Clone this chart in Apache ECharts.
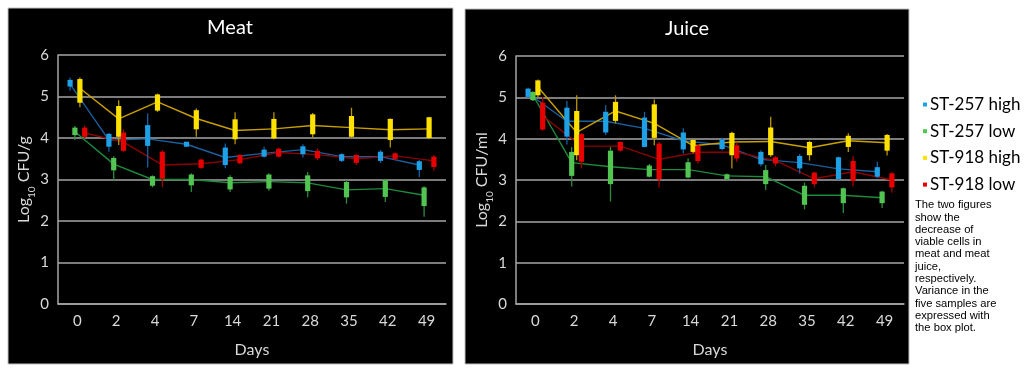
<!DOCTYPE html>
<html><head><meta charset="utf-8">
<script src="https://cdn.jsdelivr.net/npm/echarts@6/dist/echarts.min.js"></script>
<style>html,body{margin:0;padding:0;background:#fff}#c{width:1029px;height:370px}</style>
</head><body><div id="c"></div>
<script>
// Categories (days)
const days = ['0','2','4','7','14','21','28','35','42','49'];
const yTicks = [0, 6, 1]; // min, max, interval
const seriesNames = ['ST-257 high','ST-257 low','ST-918 high','ST-918 low'];

// Box values per day: [min, Q1, median, Q3, max] (log10 CFU)
const meatBlue = [[5.14,5.24,5.3,5.40,5.46],[3.67,3.79,3.95,4.10,4.12],[3.29,3.81,3.98,4.31,4.59],[3.79,3.79,3.85,3.91,3.91],[3.27,3.35,3.53,3.77,3.87],[3.53,3.55,3.63,3.72,3.79],[3.53,3.61,3.72,3.80,3.85],[3.42,3.45,3.55,3.61,3.63],[3.40,3.45,3.55,3.67,3.71],[3.06,3.23,3.35,3.44,3.47]];
const meatGreen = [[3.95,4.07,4.15,4.25,4.29],[2.98,3.22,3.37,3.52,3.56],[2.81,2.85,3.0,3.08,3.10],[2.70,2.86,3.0,3.12,3.15],[2.70,2.76,2.92,3.06,3.10],[2.73,2.78,2.95,3.12,3.15],[2.57,2.72,2.92,3.10,3.18],[2.42,2.57,2.75,2.94,2.98],[2.46,2.58,2.78,2.98,3.02],[2.10,2.36,2.62,2.81,2.84]];
const meatYellow = [[4.74,4.85,5.2,5.42,5.46],[3.83,4.03,4.46,4.77,4.91],[4.63,4.66,4.87,5.05,5.07],[4.03,4.21,4.47,4.67,4.71],[3.85,3.97,4.18,4.45,4.62],[3.97,3.99,4.22,4.46,4.62],[4.01,4.09,4.3,4.57,4.60],[4.0,4.03,4.25,4.53,4.73],[3.77,3.95,4.2,4.46,4.47],[3.97,4.0,4.22,4.50,4.51]];
const meatRed = [[3.99,4.03,4.12,4.25,4.30],[3.67,3.69,3.9,4.13,4.21],[2.82,3.02,3.35,3.67,3.71],[3.26,3.28,3.38,3.48,3.50],[3.37,3.39,3.48,3.59,3.61],[3.53,3.55,3.65,3.74,3.77],[3.47,3.51,3.6,3.69,3.75],[3.35,3.40,3.5,3.59,3.61],[3.47,3.49,3.57,3.63,3.65],[3.21,3.30,3.45,3.55,3.59]];

const juiceBlue = [[4.99,5.01,5.1,5.21,5.23],[3.86,4.05,4.42,4.75,4.91],[4.09,4.15,4.42,4.65,4.81],[3.79,3.80,4.25,4.51,4.65],[3.64,3.74,3.95,4.15,4.25],[3.72,3.75,3.85,3.98,4.02],[3.33,3.38,3.5,3.68,3.72],[3.16,3.28,3.42,3.58,3.63],[3.0,3.02,3.27,3.55,3.57],[3.04,3.08,3.2,3.31,3.44]];
const juiceGreen = [[4.91,4.93,5.05,5.13,5.15],[2.84,3.10,3.42,3.68,3.80],[2.48,2.90,3.32,3.71,3.80],[3.06,3.08,3.25,3.35,3.39],[3.04,3.06,3.25,3.43,3.52],[3.0,3.02,3.1,3.14,3.16],[2.76,2.90,3.08,3.24,3.36],[2.29,2.40,2.63,2.86,2.94],[2.20,2.44,2.63,2.80,2.82],[2.32,2.44,2.57,2.72,2.74]];
const juiceYellow = [[5.01,5.05,5.25,5.41,5.43],[3.48,3.60,4.15,4.67,5.05],[4.37,4.43,4.67,4.89,5.05],[3.84,4.02,4.37,4.83,4.95],[3.64,3.68,3.83,3.97,3.97],[3.28,3.60,3.92,4.14,4.17],[3.56,3.60,3.93,4.27,4.53],[3.47,3.60,3.78,3.92,3.95],[3.68,3.80,3.95,4.07,4.13],[3.59,3.71,3.9,4.09,4.11]];
const juiceRed = [[4.19,4.22,4.55,4.87,5.01],[3.28,3.44,3.82,4.11,4.14],[3.69,3.71,3.82,3.92,3.94],[2.82,3.02,3.5,3.88,3.92],[3.40,3.46,3.67,3.83,3.87],[3.44,3.52,3.67,3.84,3.91],[3.33,3.40,3.47,3.55,3.58],[2.82,2.90,3.03,3.18,3.20],[2.84,2.98,3.2,3.46,3.58],[2.69,2.82,3.0,3.16,3.20]];

const description = 'The two figures\nshow the\ndecrease of\nviable cells in\nmeat and meat\njuice,\nrespectively.\nVariance in the\nfive samples are\nexpressed with\nthe box plot.';

// Styles
const boxColors = ['#1ea0e6','#52c452','#ffe100','#e60000'];
const whiskerColors = ['#1560a8','#2e8b3e','#b89400','#a00000'];
const lineColors = ['#1a5f9e','#1e8a3c','#c9a000','#8c0000'];
const offsets = [-7.3, -2.5, 2.5, 7.3];
const FONT = 'Lato';
const LBL = '#d9d9d9';

function toRows(arr){ return arr.map((v,i)=>[i].concat(v)); }

function boxSeries(name, arr, k, gi){
  return {
    type:'custom', name, xAxisIndex:gi, yAxisIndex:gi, z:4,
    itemStyle:{color:boxColors[k]},
    encode:{x:0, y:[1,2,3,4,5]},
    data: toRows(arr),
    renderItem(params, api){
      const i = api.value(0);
      const xc = api.coord([i, 0])[0] + offsets[k];
      const y = v => api.coord([i, v])[1];
      const mn=api.value(1), q1=api.value(2), q3=api.value(4), mx=api.value(5);
      return {type:'group', children:[
        {type:'line', shape:{x1:xc,y1:y(mx),x2:xc,y2:y(mn)}, style:{stroke:whiskerColors[k], lineWidth:1.3}},
        {type:'rect', shape:{x:xc-2.6, y:y(q3), width:5.2, height:Math.max(2.5, y(q1)-y(q3))}, style:{fill:boxColors[k]}}
      ]};
    }
  };
}
function lineSeries(name, arr, k, gi){
  return {
    type:'custom', name, xAxisIndex:gi, yAxisIndex:gi, z:3,
    itemStyle:{color:lineColors[k]},
    encode:{x:0, y:1},
    data: arr.map((v,i)=>[i, v[2]]),
    renderItem(params, api){
      const i = api.value(0);
      if (i === 0) return null;
      const p0 = api.coord([i-1, arr[i-1][2]]); p0[0] += offsets[k];
      const p1 = api.coord([i, api.value(1)]); p1[0] += offsets[k];
      return {type:'line', shape:{x1:p0[0],y1:p0[1],x2:p1[0],y2:p1[1]}, style:{stroke:lineColors[k], lineWidth:1.4}};
    }
  };
}

const panels = [
  [meatBlue, meatGreen, meatYellow, meatRed],
  [juiceBlue, juiceGreen, juiceYellow, juiceRed]
];
const series = [];
panels.forEach((p, gi) => p.forEach((arr,k) => series.push(lineSeries(seriesNames[k], arr, k, gi))));
panels.forEach((p, gi) => p.forEach((arr,k) => series.push(boxSeries(seriesNames[k], arr, k, gi))));

function xAxis(gi){
  return {type:'category', gridIndex:gi, data:days, boundaryGap:true,
    axisLine:{show:true, lineStyle:{color:'#a6a6a6', width:1.5}}, axisTick:{show:false},
    axisLabel:{color:LBL, fontFamily:FONT, fontSize:15, margin:10},
    name:'Days', nameLocation:'middle', nameGap:38,
    nameTextStyle:{color:LBL, fontFamily:FONT, fontSize:16}};
}
function yAxis(gi, unit){
  return {type:'value', gridIndex:gi, min:yTicks[0], max:yTicks[1], interval:yTicks[2],
    axisLine:{show:true, lineStyle:{color:'#a6a6a6', width:1.5}}, axisTick:{show:false},
    splitLine:{lineStyle:{color:'#a6a6a6', width:1.5}},
    axisLabel:{color:LBL, fontFamily:FONT, fontSize:15, margin:9},
    name:'{a|Log}{s|10}{a| CFU/' + unit + '}', nameLocation:'middle', nameGap:23, nameRotate:90,
    nameTextStyle:{color:LBL, fontFamily:FONT, rich:{
      a:{fontSize:16, color:LBL, fontFamily:FONT, lineHeight:20},
      s:{fontSize:10, color:LBL, fontFamily:FONT, lineHeight:20, verticalAlign:'bottom', padding:[0,0,-3,0]}
    }}};
}

const option = {
  backgroundColor:'#ffffff',
  animation:false,
  grid:[
    {left:58, right:583, top:55, bottom:66},
    {left:516, right:125, top:56, bottom:66}
  ],
  xAxis:[xAxis(0), xAxis(1)],
  yAxis:[yAxis(0,'g'), yAxis(1,'ml')],
  legend:{
    orient:'vertical', left:918, top:90, itemWidth:4, itemHeight:4, itemGap:7.7, icon:'rect',
    textStyle:{color:'#000', fontFamily:FONT, fontSize:17, lineHeight:19, padding:[0,0,0,-2]},
    data: seriesNames.map((n,k)=>({name:n, itemStyle:{color:boxColors[k]}})),
    selectedMode:false
  },
  graphic:[
    {type:'rect', z:-100, silent:true, shape:{x:8, y:8, width:445, height:356}, style:{fill:'#000', stroke:'#c0c0c0', lineWidth:1}},
    {type:'rect', z:-100, silent:true, shape:{x:465, y:9, width:444, height:355}, style:{fill:'#000', stroke:'#c0c0c0', lineWidth:1}},
    {type:'text', x:230, y:28, style:{text:'Meat', fill:'#fff', font:'20px Lato', textAlign:'center', textVerticalAlign:'middle'}},
    {type:'text', x:687, y:29, style:{text:'Juice', fill:'#fff', font:'20px Lato', textAlign:'center', textVerticalAlign:'middle'}},
    {type:'text', x:915, y:199, style:{text:description, fill:'#000', font:'11.2px "Liberation Sans"', lineHeight:12.3, textAlign:'left', textVerticalAlign:'top'}}
  ],
  series
};
const chart = echarts.init(document.getElementById('c'), null, {renderer:'canvas'});
chart.setOption(option);
</script>
</body></html>
